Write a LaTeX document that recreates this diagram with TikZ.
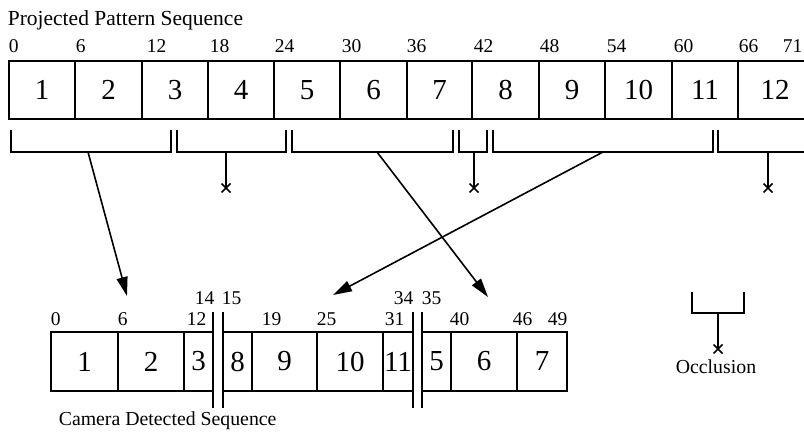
\documentclass[tikz,border=0pt]{standalone}
\usepackage{fontspec}
\setmainfont{Liberation Serif}
\usetikzlibrary{arrows.meta}
\begin{document}
\begin{tikzpicture}[x=1pt,y=-1pt, line width=1.6pt,
  cell/.style={draw, inner sep=0pt, outer sep=0pt, anchor=north west, font=\fontsize{29}{29}\selectfont},
  tick/.style={inner sep=0pt, anchor=base west, font=\fontsize{19.5}{19.5}\selectfont},
  title/.style={inner sep=0pt, anchor=base west, font=\fontsize{21.5}{21.5}\selectfont},
  subtitle/.style={inner sep=0pt, anchor=base west, font=\fontsize{19.8}{19.8}\selectfont},
  arr/.style={-{Triangle[length=19pt,width=11pt]}, line width=1.6pt},
  xmark/.pic={\draw[line width=1.6pt] (-4.5,-4.5)--(4.5,4.5) (-4.5,4.5)--(4.5,-4.5);}
  ]
\clip (0,0) rectangle (804,436);
% titles
\node[title] (ttop) at (7,25.5) {Projected Pattern Sequence};
\node[subtitle] (tbot) at (58,425) {Camera Detected Sequence};
% top row
\foreach \a/\b/\t in {9/75/1, 75/142/2, 142/208/3, 208/274/4, 274/340/5, 340/407/6, 407/472/7, 472/539/8, 539/605/9, 605/672/10, 672/738/11, 738/812/12}
  \node[cell, minimum width=\b-\a, minimum height=58] (p\t) at (\a,61) {\t};
\foreach \x/\t in {8/0, 75/6, 146/12, 209/18, 274/24, 341/30, 406/36, 473/42, 539/48, 606/54, 673/60, 738/66, 782/71}
  \node[tick] (pl\t) at (\x,53) {\t};
% bottom row
\foreach \a/\b/\t in {51/118/1, 118/184/2, 184/213/3, 223/252/8, 252/317/9, 317/383/10, 383/413/11, 422/451/5, 451/517/6, 517/567/7}
  \node[cell, minimum width=\b-\a, minimum height=59] (c\t) at (\a,332) {\t};
\foreach \x/\y/\t in {50/325/0, 117/325/6, 186/325/12, 194/304/14, 221/304/15, 261/325/19, 316/325/25, 384/325/31, 393/304/34, 421/304/35, 449/325/40, 512/325/46, 547/325/49}
  \node[tick] (cl\t) at (\x,\y) {\t};
% separators in the detected sequence
\draw (213,312) -- (213,408) (223,312) -- (223,408);
\draw (413,312) -- (413,408) (422,312) -- (422,408);
% brackets under the projected sequence
\foreach \l/\r [count=\i] in {11/171, 177/286, 292/453, 459/487, 493/713, 718/830}
  \draw (\l,130) -- (\l,152) -- (\r,152) -- (\r,130);
\coordinate (b1) at (88,152);
\coordinate (b3) at (377,152);
\coordinate (b5) at (603,152);
\coordinate (t1) at (127,296);
\coordinate (t3) at (488,297);
\coordinate (t5) at (333,295);
\draw[arr] (b1) -- (t1);
\draw[arr] (b3) -- (t3);
\draw[arr] (b5) -- (t5);
% occlusions
\foreach \x in {226, 474, 768} {
  \draw (\x,152) -- (\x,188);
  \pic at (\x,188) {xmark};
}
% legend
\draw (692,292) -- (692,313) -- (744,313) -- (744,292);
\draw (718,313) -- (718,349);
\pic at (718,349) {xmark};
\node[subtitle, anchor=base] (occ) at (716,373) {Occlusion};
\end{tikzpicture}
\end{document}
